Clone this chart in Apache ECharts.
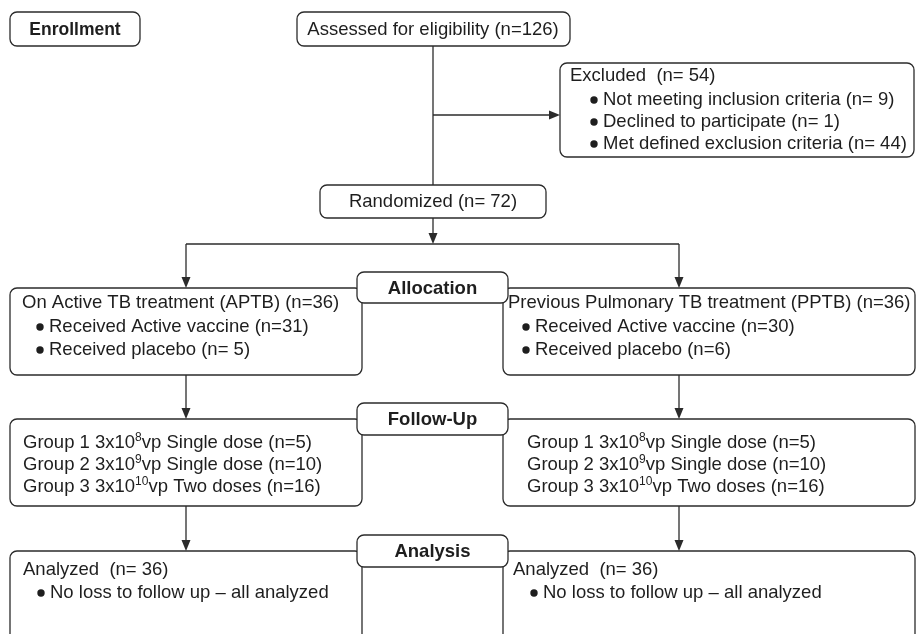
<!DOCTYPE html>
<html>
<head>
<meta charset="utf-8">
<script src="https://cdn.jsdelivr.net/npm/echarts@6/dist/echarts.min.js"></script>
<style>
  html, body { margin: 0; padding: 0; background: #fff; }
  #main { width: 916px; height: 634px; }
</style>
</head>
<body>
<div id="main"></div>
<script>
// stage labels on the side boxes
var stageLabels = ['Enrollment', 'Allocation', 'Follow-Up', 'Analysis'];

// enrollment
var assessedText = 'Assessed for eligibility (n=126)';
var excludedTitle = 'Excluded  (n= 54)';
var excludedReasons = [
  'Not meeting inclusion criteria (n= 9)',
  'Declined to participate (n= 1)',
  'Met defined exclusion criteria (n= 44)'
];
var randomizedText = 'Randomized (n= 72)';

// allocation, one entry per arm (left, right)
var armTitles = ['On Active TB treatment (APTB) (n=36)', 'Previous Pulmonary TB treatment (PPTB) (n=36)'];
var armActive = ['Received Active vaccine (n=31)', 'Received Active vaccine (n=30)'];
var armPlacebo = ['Received placebo (n= 5)', 'Received placebo (n=6)'];

// follow-up dose groups: [name, exponent, rest]
var doseGroups = [
  ['Group 1 3x10', '8', 'vp Single dose (n=5)'],
  ['Group 2 3x10', '9', 'vp Single dose (n=10)'],
  ['Group 3 3x10', '10', 'vp Two doses (n=16)']
];

// analysis
var analyzedText = ['Analyzed  (n= 36)', 'Analyzed  (n= 36)'];
var analyzedNote = 'No loss to follow up \u2013 all analyzed';

var LINE = '#2b2b2b';
var TXT = '#1e1e1e';
var FONT = '"Liberation Sans", Arial, Helvetica, sans-serif';
var FS = 18.5;

var els = [];

function box(x, y, w, h) {
  els.push({
    type: 'rect', shape: { x: x, y: y, width: w, height: h, r: 7 },
    style: { fill: '#fff', stroke: LINE, lineWidth: 1.3 }
  });
}
function line(x1, y1, x2, y2) {
  els.push({
    type: 'line', shape: { x1: x1, y1: y1, x2: x2, y2: y2 },
    style: { stroke: LINE, lineWidth: 1.3 }
  });
}
function arrowDown(x, y1, y2) {
  line(x, y1, x, y2 - 6);
  els.push({
    type: 'polygon', shape: { points: [[x - 4.5, y2 - 11], [x + 4.5, y2 - 11], [x, y2]] },
    style: { fill: LINE }
  });
}
function arrowRight(x1, x2, y) {
  line(x1, y, x2 - 6, y);
  els.push({
    type: 'polygon', shape: { points: [[x2 - 11, y - 4.5], [x2 - 11, y + 4.5], [x2, y]] },
    style: { fill: LINE }
  });
}
function label(x, y, str, opts) {
  opts = opts || {};
  els.push({
    type: 'text', x: x, y: y,
    style: {
      text: str, fill: TXT, fontFamily: FONT,
      fontSize: opts.size || FS, fontWeight: opts.bold ? 'bold' : 'normal',
      align: opts.align || 'left', verticalAlign: 'middle',
      rich: opts.rich
    }
  });
}
function bullet(x, y, str) {
  els.push({
    type: 'circle', shape: { cx: x + 4, cy: y, r: 3.7 }, style: { fill: TXT }
  });
  label(x + 13, y, str);
}
function stage(i, x, y, w, h, size) {
  box(x, y, w, h);
  label(x + w / 2, y + h / 2 + 1, stageLabels[i], { bold: true, size: size, align: 'center' });
}
function doseLine(x, y, g) {
  label(x, y, '{t|' + g[0] + '}{s|' + g[1] + '}{t|' + g[2] + '}', {
    rich: {
      t: { fontSize: FS, fontFamily: FONT, fill: TXT, lineHeight: 22 },
      s: { fontSize: 12, fontFamily: FONT, fill: TXT, lineHeight: 12, verticalAlign: 'top' }
    }
  });
}

// column centres
var cx = [186, 679];
var bx = [10, 503], bw = [352, 412];
var tx = [22, 508];

// enrollment
stage(0, 10, 12, 130, 34, 17.5);
box(297, 12, 273, 34);
label(433, 30, assessedText, { align: 'center' });
line(433, 46, 433, 185);
arrowRight(433, 560, 115);
box(560, 63, 354, 94);
label(570, 76, excludedTitle);
excludedReasons.forEach(function (r, i) { bullet(590, 100 + i * 22, r); });
box(320, 185, 226, 33);
label(433, 202, randomizedText, { align: 'center' });
arrowDown(433, 218, 244);
line(cx[0], 244, cx[1], 244);

// allocation
[0, 1].forEach(function (k) {
  arrowDown(cx[k], 244, 288);
  box(bx[k], 288, bw[k], 87);
  label(tx[k], 303, armTitles[k]);
  bullet(tx[k] + 14, 327, armActive[k]);
  bullet(tx[k] + 14, 350, armPlacebo[k]);
});
stage(1, 357, 272, 151, 31, 18.5);

// follow-up
[0, 1].forEach(function (k) {
  arrowDown(cx[k], 375, 419);
  box(bx[k], 419, bw[k], 87);
  doseGroups.forEach(function (g, i) { doseLine(k ? 527 : 23, 443 + i * 22, g); });
});
stage(2, 357, 403, 151, 32, 18.5);

// analysis
[0, 1].forEach(function (k) {
  arrowDown(cx[k], 506, 551);
  box(bx[k], 551, bw[k], 110);
  label(k ? 513 : 23, 570, analyzedText[k]);
  bullet(k ? 530 : 37, 593, analyzedNote);
});
stage(3, 357, 535, 151, 32, 18.5);

var chart = echarts.init(document.getElementById('main'), null, { renderer: 'canvas' });
chart.setOption({
  backgroundColor: '#fff',
  animation: false,
  graphic: { elements: els }
});
</script>
</body>
</html>
